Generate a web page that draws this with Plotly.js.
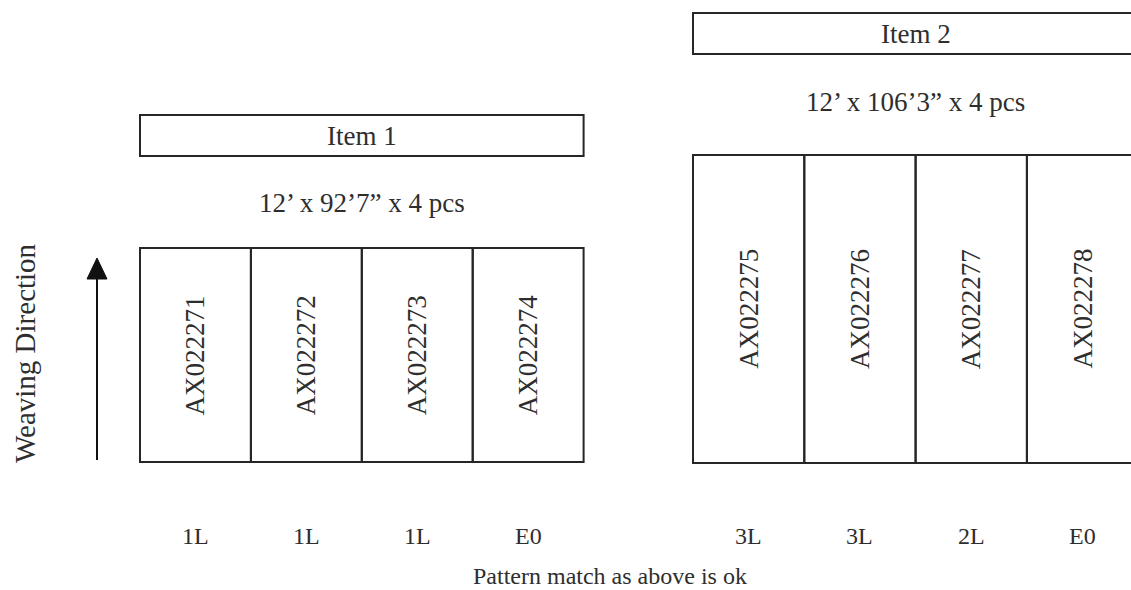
<!DOCTYPE html>
<html>
<head>
<meta charset="utf-8">
<script src="https://cdn.plot.ly/plotly-3.0.1.min.js"></script>
<style>html,body{margin:0;padding:0;background:#fff;}#chart{width:1131px;height:590px;}</style>
</head>
<body>
<div id="chart"></div>
<script>
// ---- data ----
const itemNames = ["Item 1", "Item 2"];
const itemDims = ["12’ x 92’7” x 4 pcs", "12’ x 106’3” x 4 pcs"];
const item1Pieces = ["AX022271", "AX022272", "AX022273", "AX022274"];
const item2Pieces = ["AX022275", "AX022276", "AX022277", "AX022278"];
const item1Patterns = ["1L", "1L", "1L", "E0"];
const item2Patterns = ["3L", "3L", "2L", "E0"];
const axisLabel = "Weaving Direction";
const footNote = "Pattern match as above is ok";

// ---- layout geometry (pixel-like axis units) ----
const groups = [
  {name: itemNames[0], dims: itemDims[0], pieces: item1Pieces, pats: item1Patterns,
   left: 140, colW: 110.9, headTop: 115, headBot: 156, dimsY: 203, top: 248, bot: 462},
  {name: itemNames[1], dims: itemDims[1], pieces: item2Pieces, pats: item2Patterns,
   left: 693, colW: 111.3, headTop: 13, headBot: 54, dimsY: 102, top: 155, bot: 463}
];
const patY = 536;
const lineCol = "#262626";
const txtCol = "#2e2e2e";
const serif = "Liberation Serif, Times New Roman, serif";

const shapes = [];
const annotations = [];

groups.forEach(g => {
  const n = g.pieces.length;
  const right = g.left + g.colW * n;
  // header box
  shapes.push({type: "rect", xref: "x", yref: "y", x0: g.left, x1: right, y0: g.headTop, y1: g.headBot,
    line: {color: lineCol, width: 2}, fillcolor: "rgba(0,0,0,0)"});
  annotations.push({x: (g.left + right) / 2, y: (g.headTop + g.headBot) / 2, xref: "x", yref: "y",
    text: g.name, showarrow: false, font: {family: serif, size: 27, color: txtCol}});
  annotations.push({x: (g.left + right) / 2, y: g.dimsY, xref: "x", yref: "y",
    text: g.dims, showarrow: false, font: {family: serif, size: 27, color: txtCol}});
  g.pieces.forEach((p, i) => {
    const x0 = g.left + g.colW * i, x1 = x0 + g.colW;
    shapes.push({type: "rect", xref: "x", yref: "y", x0: x0, x1: x1, y0: g.top, y1: g.bot,
      line: {color: lineCol, width: 2}, fillcolor: "rgba(0,0,0,0)"});
    annotations.push({x: (x0 + x1) / 2, y: (g.top + g.bot) / 2, xref: "x", yref: "y",
      text: p, textangle: -90, showarrow: false, font: {family: serif, size: 27, color: txtCol}});
    annotations.push({x: (x0 + x1) / 2, y: patY, xref: "x", yref: "y",
      text: g.pats[i], showarrow: false, font: {family: serif, size: 24, color: txtCol}});
  });
});

// weaving direction arrow
shapes.push({type: "line", xref: "x", yref: "y", x0: 97, x1: 97, y0: 460, y1: 272,
  line: {color: "#111", width: 2}});
shapes.push({type: "path", xref: "x", yref: "y", path: "M 87 279 L 107 279 L 97 258 Z",
  line: {color: "#111", width: 1}, fillcolor: "#111"});
annotations.push({x: 25, y: 353, xref: "x", yref: "y", text: axisLabel, textangle: -90,
  showarrow: false, font: {family: serif, size: 29, color: txtCol}});
annotations.push({x: 610, y: 576, xref: "x", yref: "y", text: footNote,
  showarrow: false, font: {family: serif, size: 24, color: txtCol}});

const layout = {
  width: 1131, height: 590,
  margin: {l: 0, r: 0, t: 0, b: 0},
  paper_bgcolor: "#fff", plot_bgcolor: "#fff",
  xaxis: {range: [0, 1131], visible: false, fixedrange: true},
  yaxis: {range: [590, 0], visible: false, fixedrange: true},
  showlegend: false,
  shapes: shapes,
  annotations: annotations
};
Plotly.newPlot("chart", [{x: [], y: [], type: "scatter", mode: "markers"}], layout, {staticPlot: true, displayModeBar: false});
</script>
</body>
</html>
